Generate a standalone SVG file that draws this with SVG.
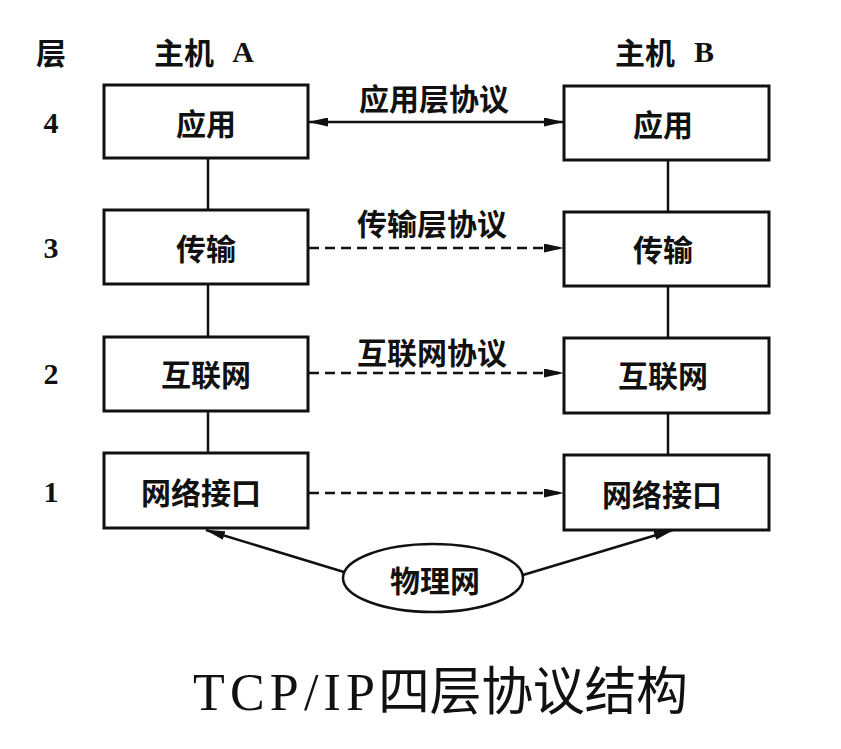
<svg xmlns="http://www.w3.org/2000/svg" width="841" height="749" viewBox="0 0 841 749">
<defs>
<marker id="ah" viewBox="0 0 20 9" refX="19" refY="4.5" markerWidth="20" markerHeight="9" markerUnits="userSpaceOnUse" orient="auto-start-reverse">
<path d="M0,0 L20,4.5 L0,9 Z" fill="#111"/>
</marker>
<style>
.box{fill:#fff;stroke:#111;stroke-width:3}
.t{font-family:"Noto Sans CJK SC","Liberation Sans",sans-serif;font-weight:700;fill:#111;text-anchor:middle;dominant-baseline:central}
.n{font-family:"Liberation Serif",serif;font-weight:700;fill:#111;text-anchor:middle;dominant-baseline:central;font-size:30px}
.ln{stroke:#111;stroke-width:2.5;fill:none}
.dash{stroke:#111;stroke-width:2.5;fill:none;stroke-dasharray:10 6}
</style>
</defs>
<rect width="841" height="749" fill="#fff"/>
<g id="labels">
<text class="t" x="51" y="51" font-size="30">层</text>
<text class="t" x="184" y="51" font-size="30">主机</text>
<text class="n" x="243" y="51">A</text>
<text class="t" x="645" y="51" font-size="30">主机</text>
<text class="n" x="704" y="51">B</text>
<text class="n" x="51" y="122">4</text>
<text class="n" x="51" y="247">3</text>
<text class="n" x="51" y="373">2</text>
<text class="n" x="51" y="491">1</text>
</g>
<g id="connectors">
<line class="ln" x1="208" y1="158" x2="208" y2="210"/>
<line class="ln" x1="208" y1="284" x2="208" y2="337"/>
<line class="ln" x1="208" y1="411" x2="208" y2="453"/>
<line class="ln" x1="668" y1="160" x2="668" y2="212"/>
<line class="ln" x1="668" y1="286" x2="668" y2="338"/>
<line class="ln" x1="668" y1="413" x2="668" y2="455"/>
<line class="ln" x1="309" y1="122" x2="563" y2="122" marker-start="url(#ah)" marker-end="url(#ah)"/>
<line class="dash" x1="309" y1="248" x2="563" y2="248" marker-end="url(#ah)"/>
<line class="dash" x1="309" y1="373" x2="563" y2="373" marker-end="url(#ah)"/>
<line class="dash" x1="309" y1="493" x2="563" y2="493" marker-end="url(#ah)"/>
<line class="ln" x1="344" y1="572" x2="206" y2="530" marker-end="url(#ah)"/>
<line class="ln" x1="523" y1="575" x2="673" y2="530" marker-end="url(#ah)"/>
<text class="t" x="434" y="97" font-size="30">应用层协议</text>
<text class="t" x="432" y="222" font-size="30">传输层协议</text>
<text class="t" x="432" y="351" font-size="30">互联网协议</text>
</g>
<g id="a4"><rect class="box" x="104" y="85" width="204" height="73"/><text class="t" x="206" y="122" font-size="30">应用</text></g>
<g id="a3"><rect class="box" x="104" y="210" width="204" height="74"/><text class="t" x="206" y="247" font-size="30">传输</text></g>
<g id="a2"><rect class="box" x="104" y="337" width="204" height="74"/><text class="t" x="206" y="373" font-size="30">互联网</text></g>
<g id="a1"><rect class="box" x="104" y="453" width="204" height="75"/><text class="t" x="201" y="491" font-size="30">网络接口</text></g>
<g id="b4"><rect class="box" x="564" y="86" width="205" height="74"/><text class="t" x="663" y="123" font-size="30">应用</text></g>
<g id="b3"><rect class="box" x="564" y="212" width="205" height="74"/><text class="t" x="663" y="248" font-size="30">传输</text></g>
<g id="b2"><rect class="box" x="564" y="338" width="205" height="75"/><text class="t" x="663" y="374" font-size="30">互联网</text></g>
<g id="b1"><rect class="box" x="564" y="455" width="205" height="75"/><text class="t" x="662" y="493" font-size="30">网络接口</text></g>
<g id="phys"><ellipse cx="433" cy="578" rx="90" ry="34" fill="#fff" stroke="#111" stroke-width="2.5"/><text class="t" x="435" y="579" font-size="30">物理网</text></g>
<g id="title"><text y="692" font-family="Liberation Serif,Noto Sans CJK SC,serif" font-size="52" fill="#111" dominant-baseline="central"><tspan x="193" textLength="182" lengthAdjust="spacing">TCP/IP</tspan><tspan x="378" textLength="310" lengthAdjust="spacing">四层协议结构</tspan></text></g>
</svg>
